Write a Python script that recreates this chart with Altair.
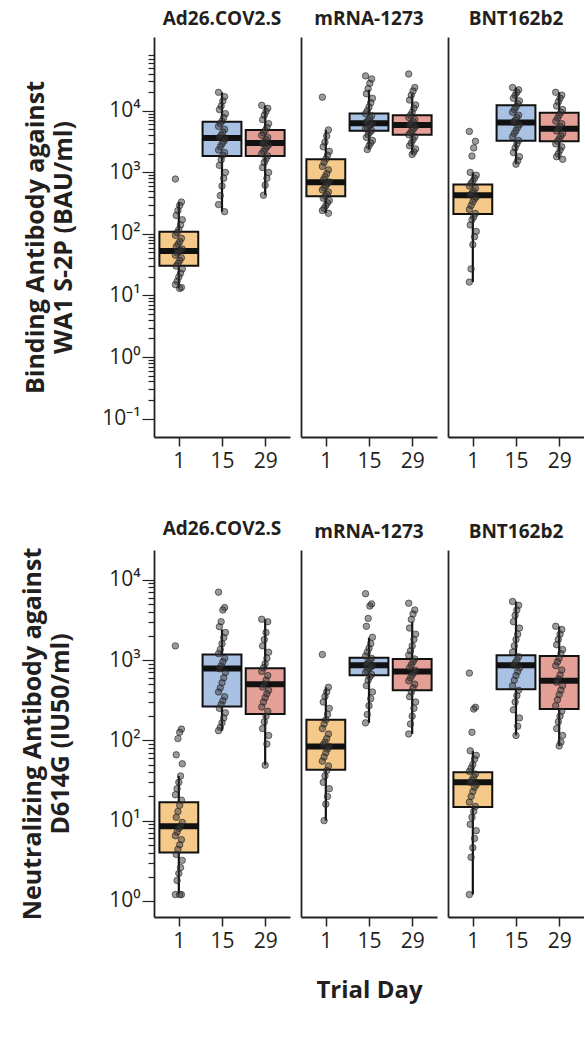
import altair as alt
import pandas as pd

vaccines = ["Ad26.COV2.S", "mRNA-1273", "BNT162b2"]
day_labels = ["1", "15", "29"]
box_colors = ["#f5c98a", "#a9c2e4", "#e4a097"]

# ---- Binding antibody against WA1 S-2P (BAU/ml): individual values ----
bind_ad26_d1 = [780, 330, 290, 240, 200, 170, 140, 118, 105, 95, 85, 75, 68, 62, 57, 54, 52, 49, 45, 41, 37, 33, 30, 27, 23, 20, 17, 15, 13.5, 13]
bind_ad26_d15 = [20000, 17000, 14500, 12000, 10500, 9000, 7800, 6800, 6200, 5600, 5000, 4500, 4000, 3700, 3500, 3200, 2900, 2600, 2300, 2100, 1900, 1600, 1300, 1000, 800, 600, 420, 300, 230]
bind_ad26_d29 = [12300, 11000, 9800, 8500, 7200, 6200, 5400, 4800, 4400, 4000, 3700, 3400, 3100, 2950, 2800, 2600, 2400, 2200, 2000, 1850, 1650, 1450, 1200, 1000, 800, 620, 425]
bind_mrna_d1 = [16700, 4900, 3900, 3100, 2600, 2200, 1900, 1650, 1450, 1250, 1100, 950, 850, 760, 700, 660, 610, 560, 520, 480, 440, 410, 380, 350, 320, 290, 260, 240, 216]
bind_mrna_d15 = [37000, 33000, 28000, 23000, 19000, 16000, 13500, 11500, 10000, 9000, 8300, 7600, 7000, 6600, 6300, 6000, 5700, 5400, 5100, 4800, 4500, 4100, 3700, 3300, 3000, 2700, 2350]
bind_mrna_d29 = [39700, 24000, 21000, 18000, 15000, 12500, 11000, 9500, 8500, 7800, 7200, 6700, 6200, 5900, 5600, 5200, 4800, 4400, 4100, 3800, 3400, 3000, 2700, 2400, 2150, 1960]
bind_bnt_d1 = [4630, 3200, 2500, 1840, 1000, 900, 800, 720, 660, 600, 550, 500, 460, 430, 400, 370, 330, 290, 250, 215, 190, 170, 140, 110, 90, 67, 27, 16.5]
bind_bnt_d15 = [24000, 22000, 20000, 18000, 16000, 14500, 13000, 11500, 10500, 9500, 8500, 7800, 7000, 6500, 6000, 5400, 4800, 4300, 3800, 3300, 2900, 2500, 2100, 1800, 1550, 1360]
bind_bnt_d29 = [20000, 18000, 16000, 14000, 12000, 10500, 9500, 8500, 7600, 6800, 6200, 5600, 5100, 4700, 4300, 3900, 3500, 3200, 2900, 2600, 2300, 2000, 1800, 1630]

# box summaries (order: Ad26 d1,d15,d29, mRNA d1,d15,d29, BNT d1,d15,d29)
bind_q1 = [30.5, 1850, 1850, 410, 4740, 4080, 211, 3280, 3200]
bind_med = [53, 3620, 3010, 690, 6300, 5900, 425, 6440, 5100]
bind_q3 = [108, 6670, 4900, 1630, 9060, 8520, 636, 12300, 9290]
bind_lo = [13, 230, 425, 216, 2350, 1960, 16.5, 1360, 1630]
bind_hi = [330, 20000, 12300, 4900, 22000, 19000, 1000, 24000, 20000]

# ---- Neutralizing antibody against D614G (IU50/ml): individual values ----
neut_ad26_d1 = [1500, 138, 126, 105, 66, 51, 36, 30, 25, 21, 18, 15.5, 13, 11, 9.5, 8.5, 8, 7.2, 6.5, 5.8, 5, 4.4, 3.8, 3.2, 2.6, 2.2, 1.8, 1.2, 1.2, 1.2]
neut_ad26_d15 = [7000, 4500, 4200, 3000, 2600, 2200, 1900, 1600, 1350, 1200, 1050, 950, 850, 780, 700, 600, 520, 450, 400, 350, 310, 280, 250, 220, 190, 165, 145, 132]
neut_ad26_d29 = [3220, 3000, 2200, 1800, 1500, 1250, 1050, 900, 800, 720, 640, 560, 500, 460, 420, 380, 340, 300, 260, 230, 200, 170, 140, 115, 90, 49]
neut_mrna_d1 = [1170, 457, 400, 352, 300, 250, 210, 180, 160, 140, 120, 105, 95, 88, 84, 78, 70, 62, 55, 48, 42, 36, 30, 25, 20, 16, 10]
neut_mrna_d15 = [6700, 5000, 4700, 3300, 2630, 1920, 1600, 1400, 1250, 1120, 1050, 980, 920, 880, 850, 820, 780, 740, 700, 660, 620, 560, 480, 400, 330, 270, 210, 165]
neut_mrna_d29 = [5100, 4200, 3740, 3200, 2500, 2100, 1800, 1500, 1300, 1150, 1030, 950, 870, 800, 740, 700, 650, 600, 550, 500, 450, 400, 350, 300, 250, 200, 160, 120]
neut_bnt_d1 = [687, 258, 245, 126, 74, 65, 58, 50, 45, 41, 38, 35, 32, 30, 28, 26, 23, 20, 17, 15, 13, 11, 9, 7.5, 6, 4.6, 3.5, 1.2]
neut_bnt_d15 = [5360, 4800, 4200, 3600, 3000, 2500, 2100, 1800, 1500, 1250, 1100, 1000, 920, 860, 800, 720, 640, 560, 480, 420, 360, 300, 240, 190, 150, 115]
neut_bnt_d29 = [2630, 2400, 2100, 1800, 1550, 1350, 1200, 1050, 950, 850, 750, 650, 580, 530, 480, 420, 370, 320, 270, 230, 200, 170, 140, 115, 95, 85]

neut_q1 = [4.0, 264, 213, 43, 645, 421, 14.8, 432, 245]
neut_med = [8.5, 785, 500, 84, 860, 720, 30, 860, 550]
neut_q3 = [17, 1170, 790, 180, 1070, 1030, 40, 1150, 1120]
neut_lo = [1.2, 132, 49, 10, 165, 120, 1.2, 115, 85]
neut_hi = [36, 2400, 3220, 457, 1900, 3000, 74, 5360, 2630]

bind_groups = [[bind_ad26_d1, bind_ad26_d15, bind_ad26_d29],
               [bind_mrna_d1, bind_mrna_d15, bind_mrna_d29],
               [bind_bnt_d1, bind_bnt_d15, bind_bnt_d29]]
neut_groups = [[neut_ad26_d1, neut_ad26_d15, neut_ad26_d29],
               [neut_mrna_d1, neut_mrna_d15, neut_mrna_d29],
               [neut_bnt_d1, neut_bnt_d15, neut_bnt_d29]]


def points_table(groups):
    rows = []
    for v, vac in enumerate(vaccines):
        for d in range(3):
            for i, val in enumerate(groups[v][d]):
                rows.append({"vaccine": vac, "d": d, "day": day_labels[d], "rn": i, "value": val})
    return pd.DataFrame(rows)


def box_table(q1, med, q3, lo, hi):
    rows = []
    k = 0
    for vac in vaccines:
        for d in range(3):
            rows.append({"vaccine": vac, "d": d, "day": day_labels[d], "q1": q1[k], "med": med[k],
                         "q3": q3[k], "lo": lo[k], "hi": hi[k]})
            k += 1
    return pd.DataFrame(rows)


bind_pts = points_table(bind_groups)
neut_pts = points_table(neut_groups)
bind_box = box_table(bind_q1, bind_med, bind_q3, bind_lo, bind_hi)
neut_box = box_table(neut_q1, neut_med, neut_q3, neut_lo, neut_hi)

sup = {0.1: "10⁻¹", 1: "10⁰", 10: "10¹", 100: "10²", 1000: "10³", 10000: "10⁴"}

FONT = "Open Sans"
TXT = "#231f20"


def log_ticks(kmin, kmax_exp, top_mult):
    vals = []
    for k in range(kmin, kmax_exp + 1):
        for m in range(1, 10):
            if k == kmax_exp and m > top_mult:
                break
            vals.append(round(m * 10.0 ** k, 6))
    return vals


def label_expr():
    parts = []
    for v, s in sup.items():
        parts.append(f"datum.value == {v} ? '{s}' : ")
    return "".join(parts) + "''"


major_test = "indexof([0.1, 1, 10, 100, 1000, 10000], datum.value) >= 0"
xlab_expr = "datum.value == 0 ? '1' : datum.value == 1 ? '15' : '29'"


def panel(pts_df, box_df, v, height, ydomain, yticks, ytitle, xtitle, title_pad):
    vac = vaccines[v]
    p = pts_df[pts_df.vaccine == vac]
    b = box_df[box_df.vaccine == vac]
    xscale = alt.Scale(domain=[-0.575, 2.575], nice=False, zero=False)
    yscale = alt.Scale(type="log", domain=ydomain, nice=False)
    xaxis = alt.Axis(values=[0, 1, 2], labelExpr=xlab_expr, tickSize=9, tickWidth=1.5,
                     labelFontSize=21, labelPadding=4, grid=False,
                     title=xtitle if xtitle else None, titleFontSize=24, titleFontWeight="bold",
                     titlePadding=27)
    if ytitle is not None:
        yaxis = alt.Axis(values=yticks, labelExpr=label_expr(), labelOverlap=False, labelBound=False,
                         tickSize={"condition": {"test": major_test, "value": 12}, "value": 6},
                         tickWidth=1.2, labelFontSize=21, labelPadding=2, grid=False,
                         title=ytitle, titleFontSize=25, titleFontWeight="bold",
                         titleLineHeight=28, titlePadding=title_pad)
    else:
        yaxis = alt.Axis(labels=False, ticks=False, title=None, grid=False, domain=True)

    X = lambda f: alt.X(f, scale=xscale, axis=xaxis)
    Y = lambda f: alt.Y(f, scale=yscale, axis=yaxis)

    whisk = alt.Chart(b).mark_rule(color="#111", strokeWidth=2.2).encode(
        x=X("d:Q"), y=Y("lo:Q"), y2="hi:Q")
    boxes = alt.Chart(b).transform_calculate(
        x1="datum.d - 0.45", x2="datum.d + 0.45"
    ).mark_rect(stroke="#111", strokeWidth=2).encode(
        x=X("x1:Q"), x2="x2:Q", y=Y("q1:Q"), y2="q3:Q",
        fill=alt.Fill("day:N", scale=alt.Scale(domain=day_labels, range=box_colors), legend=None))
    med = alt.Chart(b).transform_calculate(
        x1="datum.d - 0.45", x2="datum.d + 0.45"
    ).mark_rule(color="#111", strokeWidth=6).encode(x=X("x1:Q"), x2="x2:Q", y=Y("med:Q"))
    dots = alt.Chart(p).transform_calculate(
        xj="datum.d + ((datum.rn * 7) % 9 - 4) * 0.02"
    ).mark_circle(size=42, fill="#383838", fillOpacity=0.5, stroke="#1e1e1e", strokeWidth=0.8,
                  strokeOpacity=0.75).encode(x=X("xj:Q"), y=Y("value:Q"))

    return alt.layer(whisk, boxes, med, dots).properties(
        width=136, height=height,
        title=alt.TitleParams(vac, fontSize=19, fontWeight="bold", font=FONT, color=TXT,
                              anchor="middle", offset=8))


bind_ticks = log_ticks(-1, 4, 8)
neut_ticks = log_ticks(0, 4, 1)

row1 = alt.hconcat(
    *[panel(bind_pts, bind_box, v, 400, [10 ** -1.3, 10 ** 5.2], bind_ticks,
            ["Binding Antibody against", "WA1 S-2P (BAU/ml)"] if v == 0 else None, None, 25)
      for v in range(3)],
    spacing=11, bounds="flush")
row2 = alt.hconcat(
    *[panel(neut_pts, neut_box, v, 367, [10 ** -0.2, 10 ** 4.37], neut_ticks,
            ["Neutralizing Antibody against", "D614G (IU50/ml)"] if v == 0 else None,
            "Trial Day" if v == 1 else None, 35)
      for v in range(3)],
    spacing=11, bounds="flush")

chart = alt.vconcat(row1, row2, spacing=49).properties(
    padding={"left": 20, "top": 10, "right": 0, "bottom": 5}
).configure_view(stroke=None).configure_axis(
    domainColor="#222", domainWidth=1.8, tickColor="#222", labelColor=TXT, titleColor=TXT,
    labelFont=FONT, titleFont=FONT
)

chart.save("out.html", embed_options={"renderer": "svg", "actions": False})
